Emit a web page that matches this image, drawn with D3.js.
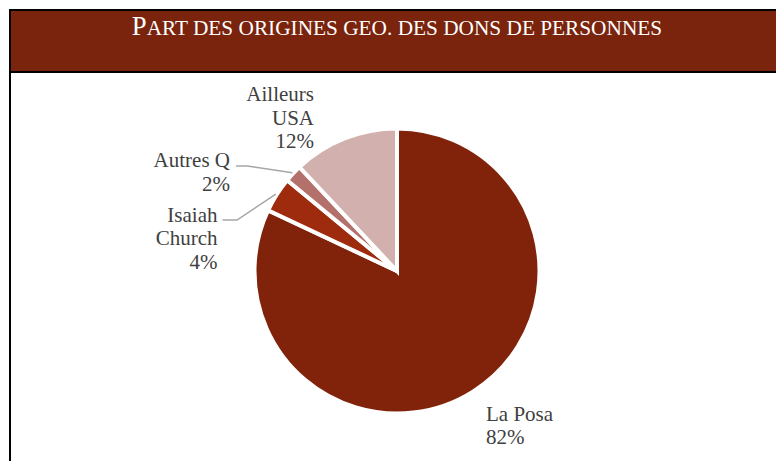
<!DOCTYPE html>
<html>
<head>
<meta charset="utf-8">
<script src="https://cdn.jsdelivr.net/npm/d3@7"></script>
<style>
  html, body { margin: 0; padding: 0; background: #ffffff; }
  svg { display: block; }
</style>
</head>
<body>
<svg id="chart" width="776" height="461"></svg>
<script>
// ---- data ----
const categories = ["La Posa", "Isaiah Church", "Autres Q", "Ailleurs USA"];
const values = [82, 4, 2, 12];
const percentLabels = ["82%", "4%", "2%", "12%"];
const labelLines = [["La Posa"], ["Isaiah", "Church"], ["Autres Q"], ["Ailleurs", "USA"]];
const titleFirst = "P";
const titleRest = "ART DES ORIGINES GEO. DES DONS DE PERSONNES";

// ---- styles / layout ----
const colors = ["#80230a", "#9f2b0f", "#b4706b", "#d2b0ad"];
const titleBg = "#7a230d";
const cx = 397, cy = 271, R = 142.5;

const svg = d3.select("#chart");

// chart frame (extends beyond viewport on right/bottom)
svg.append("rect")
  .attr("x", 10).attr("y", 10).attr("width", 774).attr("height", 470)
  .attr("fill", "#ffffff").attr("stroke", "#000000").attr("stroke-width", 2);
svg.append("rect")
  .attr("x", 10).attr("y", 10).attr("width", 774).attr("height", 62)
  .attr("fill", titleBg).attr("stroke", "#000000").attr("stroke-width", 2);

const title = svg.append("text")
  .attr("x", 397).attr("y", 35)
  .attr("text-anchor", "middle")
  .attr("font-family", "'Liberation Serif', 'Times New Roman', serif")
  .attr("fill", "#ffffff");
title.append("tspan").attr("font-size", 26.7).text(titleFirst);
title.append("tspan").attr("font-size", 21.3).text(titleRest);

// pie
const pie = d3.pie().sort(null).value(d => d)(values);
const arc = d3.arc().innerRadius(0).outerRadius(R);
const g = svg.append("g").attr("transform", `translate(${cx},${cy})`);
g.selectAll("path").data(pie).enter().append("path")
  .attr("d", arc)
  .attr("fill", (d, i) => colors[i])
  .attr("stroke", "#ffffff")
  .attr("stroke-width", 4)
  .attr("stroke-linejoin", "miter");

// labels
const font = "'Liberation Serif', 'Times New Roman', serif";
const labelPos = [
  { x: 486, y: 420.5, anchor: "start" },
  { x: 217.5, y: 221.5, anchor: "end" },
  { x: 230, y: 167, anchor: "end" },
  { x: 314, y: 101, anchor: "end" }
];
const lineH = 23.7;
labelPos.forEach((p, i) => {
  const t = svg.append("text")
    .attr("text-anchor", p.anchor)
    .attr("font-family", font)
    .attr("font-size", 21)
    .attr("fill", "#404040");
  const lines = labelLines[i].concat([percentLabels[i]]);
  lines.forEach((ln, j) => {
    t.append("tspan").attr("x", p.x).attr("y", p.y + j * lineH).text(ln);
  });
});

// leader lines for the small slices
const leaderArc = d3.arc().innerRadius(R + 1).outerRadius(R + 1);
const leaders = [
  { i: 1, sx: 222.5, sy: 220, kx: 237 },
  { i: 2, sx: 236, sy: 166, kx: 247 }
];
leaders.forEach(l => {
  const c = leaderArc.centroid(pie[l.i]);
  const ex = cx + c[0], ey = cy + c[1];
  svg.append("polyline")
    .attr("points", `${l.sx},${l.sy} ${l.kx},${l.sy} ${ex},${ey}`)
    .attr("fill", "none")
    .attr("stroke", "#a6a6a6")
    .attr("stroke-width", 1.5);
});
</script>
</body>
</html>
